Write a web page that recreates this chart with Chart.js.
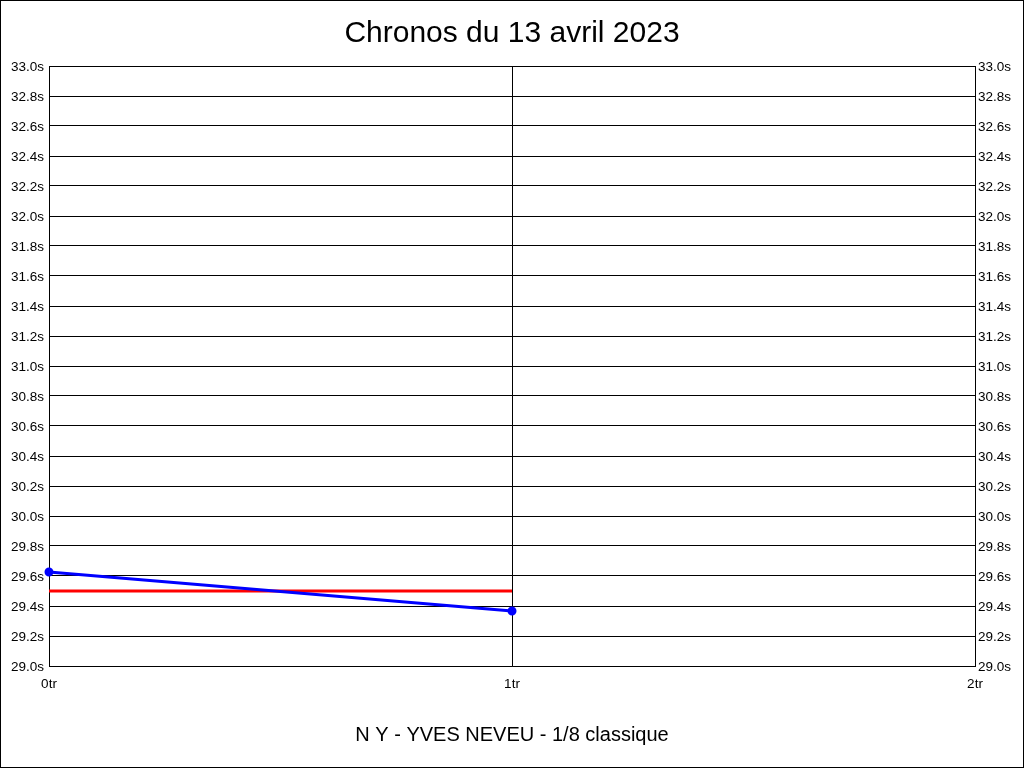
<!DOCTYPE html>
<html>
<head>
<meta charset="utf-8">
<script src="https://cdn.jsdelivr.net/npm/chart.js@4"></script>
<style>
  html, body { margin: 0; padding: 0; background: #fff; }
  #wrap { width: 1024px; height: 768px; }
</style>
</head>
<body>
<div id="wrap"><canvas id="chrono" width="1024" height="768"></canvas></div>
<script>
// Laps (tours) and lap times
const laps = [0, 1];
const lapTimes = [29.627, 29.367];
const targetLaps = [0, 1];
const targetTimes = [29.5, 29.5];
const yMin = 29.0, yMax = 33.0, yStep = 0.2;
const xMin = 0, xMax = 2;
const titleText = 'Chronos du 13 avril 2023';
const subtitleText = 'N Y - YVES NEVEU - 1/8 classique';

const FONT = "'Liberation Sans', Arial, sans-serif";

// white background and frame around the whole picture
const framePlugin = {
    id: 'frame',
    beforeDraw(chart) {
        const ctx = chart.ctx;
        ctx.save();
        ctx.fillStyle = '#fff';
        ctx.fillRect(0, 0, chart.width, chart.height);
        ctx.restore();
    },
    afterDraw(chart) {
        const ctx = chart.ctx;
        ctx.save();
        ctx.strokeStyle = '#000';
        ctx.lineWidth = 1;
        ctx.strokeRect(0.5, 0.5, chart.width - 1, chart.height - 1);
        ctx.restore();
    }
};

const tickFont = { family: FONT, size: 13.5 };

new Chart(document.getElementById('chrono'), {
    type: 'line',
    data: {
        datasets: [{
            label: 'Chronos',
            data: laps.map((l, i) => ({ x: l, y: lapTimes[i] })),
            borderColor: '#0000ff',
            backgroundColor: '#0000ff',
            borderWidth: 3,
            pointRadius: 3,
            pointHoverRadius: 3,
            tension: 0,
            clip: false
        }, {
            label: 'Objectif',
            data: targetLaps.map((l, i) => ({ x: l, y: targetTimes[i] })),
            borderColor: '#ff0000',
            borderWidth: 3,
            pointRadius: 0,
            tension: 0
        }]
    },
    options: {
        responsive: false,
        animation: false,
        layout: { padding: 0 },
        plugins: {
            legend: { display: false },
            tooltip: { enabled: false },
            title: {
                display: true,
                text: titleText,
                color: '#000',
                font: { family: FONT, size: 30, weight: 'normal', lineHeight: 1.2 },
                padding: { top: 16, bottom: 14 }
            },
            subtitle: {
                display: true,
                position: 'bottom',
                text: subtitleText,
                color: '#000',
                font: { family: FONT, size: 20, weight: 'normal', lineHeight: 1.2 },
                padding: { top: 0, bottom: 21 }
            }
        },
        scales: {
            x: {
                type: 'linear',
                min: xMin,
                max: xMax,
                afterFit(scale) { scale.height = 57; },
                border: { display: true, color: '#000', width: 1 },
                grid: { color: '#000', lineWidth: 1, drawTicks: false },
                ticks: {
                    stepSize: 1,
                    color: '#000',
                    font: tickFont,
                    padding: 10,
                    callback: v => v + 'tr'
                }
            },
            y: {
                position: 'left',
                min: yMin,
                max: yMax,
                afterFit(scale) { scale.width = 49; },
                border: { display: true, color: '#000', width: 1 },
                grid: { color: '#000', lineWidth: 1, drawTicks: false },
                ticks: {
                    stepSize: yStep,
                    autoSkip: false,
                    color: '#000',
                    font: tickFont,
                    padding: 5,
                    labelOffset: 1.5,
                    callback: v => v.toFixed(1) + 's'
                }
            },
            y2: {
                position: 'right',
                min: yMin,
                max: yMax,
                afterFit(scale) { scale.width = 49; },
                border: { display: true, color: '#000', width: 1 },
                grid: { display: false, drawTicks: false },
                ticks: {
                    stepSize: yStep,
                    autoSkip: false,
                    color: '#000',
                    font: tickFont,
                    padding: 3,
                    labelOffset: 1.5,
                    callback: v => v.toFixed(1) + 's'
                }
            }
        }
    },
    plugins: [framePlugin]
});
</script>
</body>
</html>
